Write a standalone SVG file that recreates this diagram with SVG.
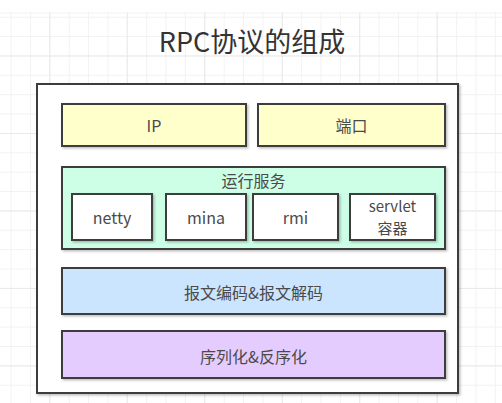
<svg xmlns="http://www.w3.org/2000/svg" width="502" height="403" viewBox="0 0 502 403">
  <defs>
    <pattern id="gridMinor" patternUnits="userSpaceOnUse" x="10.6" y="16.7" width="19.37" height="19.37">
      <path d="M0.5 0V19.37M0 0.5H19.37" stroke="#f2f2f2" stroke-width="1" fill="none"/>
    </pattern>
    <pattern id="gridMajor" patternUnits="userSpaceOnUse" x="49.3" y="55.5" width="77.48" height="77.48">
      <path d="M0.5 0V77.48M0 0.5H77.48" stroke="#e9e9e9" stroke-width="1" fill="none"/>
    </pattern>
    <filter id="shadow" x="-5%" y="-5%" width="115%" height="120%">
      <feDropShadow dx="1.5" dy="1.5" stdDeviation="0.8" flood-color="#000" flood-opacity="0.25"/>
    </filter>
  </defs>
  <style>
    .box { stroke: #3c3c3c; stroke-width: 2; filter: url(#shadow); }
    .lbl { font-family: "Microsoft YaHei", "Noto Sans CJK SC", "Noto Sans", sans-serif; font-size: 16px; fill: #4a4a4a; text-anchor: middle; dominant-baseline: central; }
    .sm { font-size: 15px; }
    .title { font-family: "Microsoft YaHei", "Noto Sans CJK SC", "Noto Sans", sans-serif; font-size: 27px; fill: #333; text-anchor: middle; }
  </style>
  <rect x="0" y="0" width="502" height="403" fill="#ffffff"/>
  <rect x="0" y="12" width="502" height="391" fill="url(#gridMinor)"/>
  <rect x="0" y="12" width="502" height="391" fill="url(#gridMajor)"/>
  <line x1="0" y1="13" x2="502" y2="13" stroke="#f2f2f2" stroke-width="1"/>

  <g id="title">
    <text class="title" x="252" y="52">RPC协议的组成</text>
  </g>

  <g id="container">
    <rect class="box" x="37" y="84" width="421" height="309" fill="#ffffff"/>
  </g>

  <g id="ip">
    <rect class="box" x="62" y="104" width="184" height="42" fill="#ffffcc"/>
    <text class="lbl" x="154" y="125">IP</text>
  </g>
  <g id="port">
    <rect class="box" x="258" y="104" width="187" height="42" fill="#ffffcc"/>
    <text class="lbl" x="351.5" y="125">端口</text>
  </g>

  <g id="runtime">
    <rect class="box" x="62" y="167" width="383" height="82" fill="#ccffe6"/>
    <text class="lbl" x="253.5" y="180">运行服务</text>
  </g>
  <g id="netty">
    <rect class="box" x="72" y="194" width="80" height="46" fill="#ffffff"/>
    <text class="lbl" x="112" y="217">netty</text>
  </g>
  <g id="mina">
    <rect class="box" x="166" y="194" width="80" height="46" fill="#ffffff"/>
    <text class="lbl" x="206" y="217">mina</text>
  </g>
  <g id="rmi">
    <rect class="box" x="253" y="194" width="85" height="46" fill="#ffffff"/>
    <text class="lbl" x="295.5" y="217">rmi</text>
  </g>
  <g id="servlet">
    <rect class="box" x="350" y="194" width="85" height="46" fill="#ffffff"/>
    <text class="lbl sm" x="392.5" y="205">servlet</text>
    <text class="lbl sm" x="392.5" y="227">容器</text>
  </g>

  <g id="codec">
    <rect class="box" x="62" y="268" width="383" height="46" fill="#cce5ff"/>
    <text class="lbl" x="253.5" y="292">报文编码&amp;报文解码</text>
  </g>
  <g id="serialize">
    <rect class="box" x="62" y="331" width="383" height="47" fill="#e5ccff"/>
    <text class="lbl" x="253.5" y="356">序列化&amp;反序化</text>
  </g>

  <g id="connectors"></g>
</svg>
